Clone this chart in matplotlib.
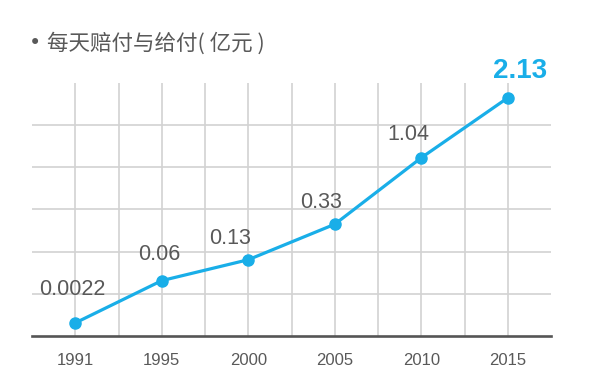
import numpy as np
import matplotlib
matplotlib.use("Agg")
import matplotlib.pyplot as plt
from matplotlib.ticker import FixedLocator, NullFormatter

# ---- data ----
years = ["1991", "1995", "2000", "2005", "2010", "2015"]
values = [0.0022, 0.06, 0.13, 0.33, 1.04, 2.13]
labels = ["0.0022", "0.06", "0.13", "0.33", "1.04", "2.13"]
title = "每天赔付与给付( 亿元 )"

BLUE = "#19aee8"
GREY = "#595959"
GRID = "#d2d2d2"

fig = plt.figure(figsize=(6.0, 3.85), dpi=100)
ax = fig.add_axes([32/600, 1-336/385, (551-32)/600, (336-83)/385])

# power scale (stylised, compressed vertical axis)
P = 0.4
def fwd(v):
    v = np.asarray(v, dtype=float)
    return np.sign(v) * np.abs(v) ** P
def inv(t):
    t = np.asarray(t, dtype=float)
    return np.sign(t) * np.abs(t) ** (1.0 / P)
ax.set_yscale("function", functions=(fwd, inv))
t_lo, t_hi = 0.0129, 1.4367
ax.set_ylim(float(inv(t_lo)), float(inv(t_hi)))

x = np.arange(len(years))
ax.set_xlim(-0.5, len(years) - 0.5)

# grid
ygrid = inv(np.linspace(t_lo, t_hi, 7)[1:-1])
ax.yaxis.set_major_locator(FixedLocator(ygrid))
ax.yaxis.set_minor_locator(FixedLocator([]))
ax.yaxis.set_major_formatter(NullFormatter())
ax.set_xticks(x)
ax.set_xticks(x[:-1] + 0.5, minor=True)
ax.set_xticklabels(years)
ax.grid(True, which="major", color=GRID, linewidth=1.2, zorder=0)
ax.grid(True, which="minor", axis="x", color=GRID, linewidth=1.2, zorder=0)
ax.set_axisbelow(True)

ax.tick_params(axis="both", which="both", length=0)
ax.tick_params(axis="x", pad=12, labelsize=12, labelcolor=GREY)
for lab in ax.get_xticklabels():
    lab.set_family("Liberation Sans")
for s in ["top", "left", "right"]:
    ax.spines[s].set_visible(False)
ax.spines["bottom"].set_color("#555555")
ax.spines["bottom"].set_linewidth(1.9)
ax.spines["bottom"].set_zorder(3)

ax.plot(x, values, color=BLUE, linewidth=2.3, marker="o", markersize=8,
        zorder=4, clip_on=False)

offsets = [(-2, 24), (-2, 19), (-13, 15), (-10, 16), (-9, 17), (9, 19)]
for i, (xi, v, lab) in enumerate(zip(x, values, labels)):
    last = i == len(values) - 1
    ax.annotate(lab, (xi, v), xytext=offsets[i], textcoords="offset points",
                ha="center", va="center",
                fontsize=20 if last else 15.5,
                fontweight="bold" if last else "normal",
                color=BLUE if last else GREY,
                family="Liberation Sans", zorder=5)

# title
fig.text(35/600, 1-43/385, "•", ha="center", va="center", fontsize=15,
         color=GREY, family="DejaVu Sans")
fig.text(47/600, 1-44/385, title, ha="left", va="center", fontsize=15.5,
         color=GREY, family=["Noto Sans CJK SC", "DejaVu Sans"])

fig.savefig("out.png", dpi=100)
